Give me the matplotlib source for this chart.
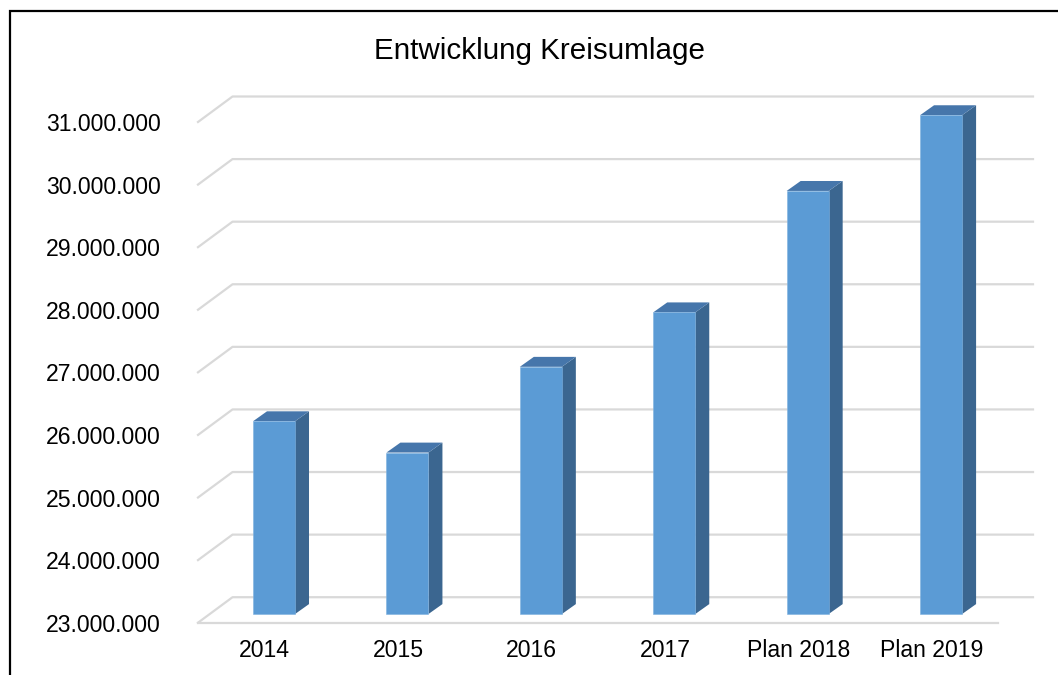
import matplotlib
matplotlib.use("Agg")
import matplotlib.pyplot as plt
from matplotlib.patches import Polygon, Rectangle
from matplotlib.ticker import FuncFormatter

plt.rcParams['font.family'] = ['Liberation Sans', 'DejaVu Sans']

# Daten
jahre = ['2014', '2015', '2016', '2017', 'Plan 2018', 'Plan 2019']
kreisumlage = [26080000, 25580000, 26950000, 27820000, 29760000, 30970000]
y_ticks = [23000000, 24000000, 25000000, 26000000, 27000000,
           28000000, 29000000, 30000000, 31000000]

fig = plt.figure(figsize=(10.58, 6.75), dpi=100)

# aeusserer Rahmen
fig.patches.append(Rectangle((10 / 1058, -0.1), 1.2, 1.1 - 11 / 675,
                             transform=fig.transFigure, fill=False,
                             edgecolor='black', lw=1.6))

ax = fig.add_axes([198 / 1058, (675 - 622.7) / 675,
                   (1033 - 198) / 1058, (622.7 - 96.5) / 675])

# Tiefenversatz (3D-Effekt) in Datenkoordinaten
DX = 34.5 / 133.33
DY = 25.5 / 62.6 * 1e6
ymin = y_ticks[0]
ax.set_xlim(-0.5, len(jahre) - 0.5 + DX)
ax.set_ylim(ymin, y_ticks[-1] + DY)

grid_c = '#d9d9d9'
x0, x1 = -0.5, len(jahre) - 0.5
for v in y_ticks:
    ax.plot([x0, x0 + DX, x1 + DX], [v, v + DY, v + DY],
            color=grid_c, lw=1.6, zorder=1, clip_on=False)
ax.plot([x0, x1], [ymin, ymin], color=grid_c, lw=1.6, zorder=1,
        clip_on=False)

# Balken als Quader
w = 0.315
fx, fy = 0.27, 0.34   # vordere Flaeche (Anteil der Tiefe)
bx, by = 0.675, 0.73  # hintere Flaeche
c_front, c_top, c_side = '#5b9bd5', '#4676ab', '#3b6690'
for i, val in enumerate(kreisumlage):
    l = i - w / 2 + fx * DX
    r = i + w / 2 + fx * DX
    b = ymin + fy * DY
    t = val + fy * DY
    ddx = (bx - fx) * DX
    ddy = (by - fy) * DY
    ax.add_patch(Polygon([(r, b), (r + ddx, b + ddy), (r + ddx, t + ddy), (r, t)],
                         closed=True, facecolor=c_side, edgecolor='none', zorder=3))
    ax.add_patch(Polygon([(l, t), (r, t), (r + ddx, t + ddy), (l + ddx, t + ddy)],
                         closed=True, facecolor=c_top, edgecolor='none', zorder=3))
    ax.add_patch(Rectangle((l, b), w, t - b, facecolor=c_front,
                           edgecolor='#7fb2e0', lw=0.4, zorder=4))

for s in ax.spines.values():
    s.set_visible(False)
ax.set_xticks(range(len(jahre)))
ax.set_xticklabels(jahre, fontsize=16.6)
ax.set_yticks(y_ticks)
ax.yaxis.set_major_formatter(FuncFormatter(lambda v, p: f"{v:,.0f}".replace(",", ".")))
ax.tick_params(axis='y', length=0, pad=27, labelsize=16.6)
ax.tick_params(axis='x', length=0, pad=11.5)

fig.text(540 / 1058, 1 - 51 / 675, 'Entwicklung Kreisumlage', fontsize=21.3,
         ha='center', va='center')

fig.savefig('out.png', dpi=100)
